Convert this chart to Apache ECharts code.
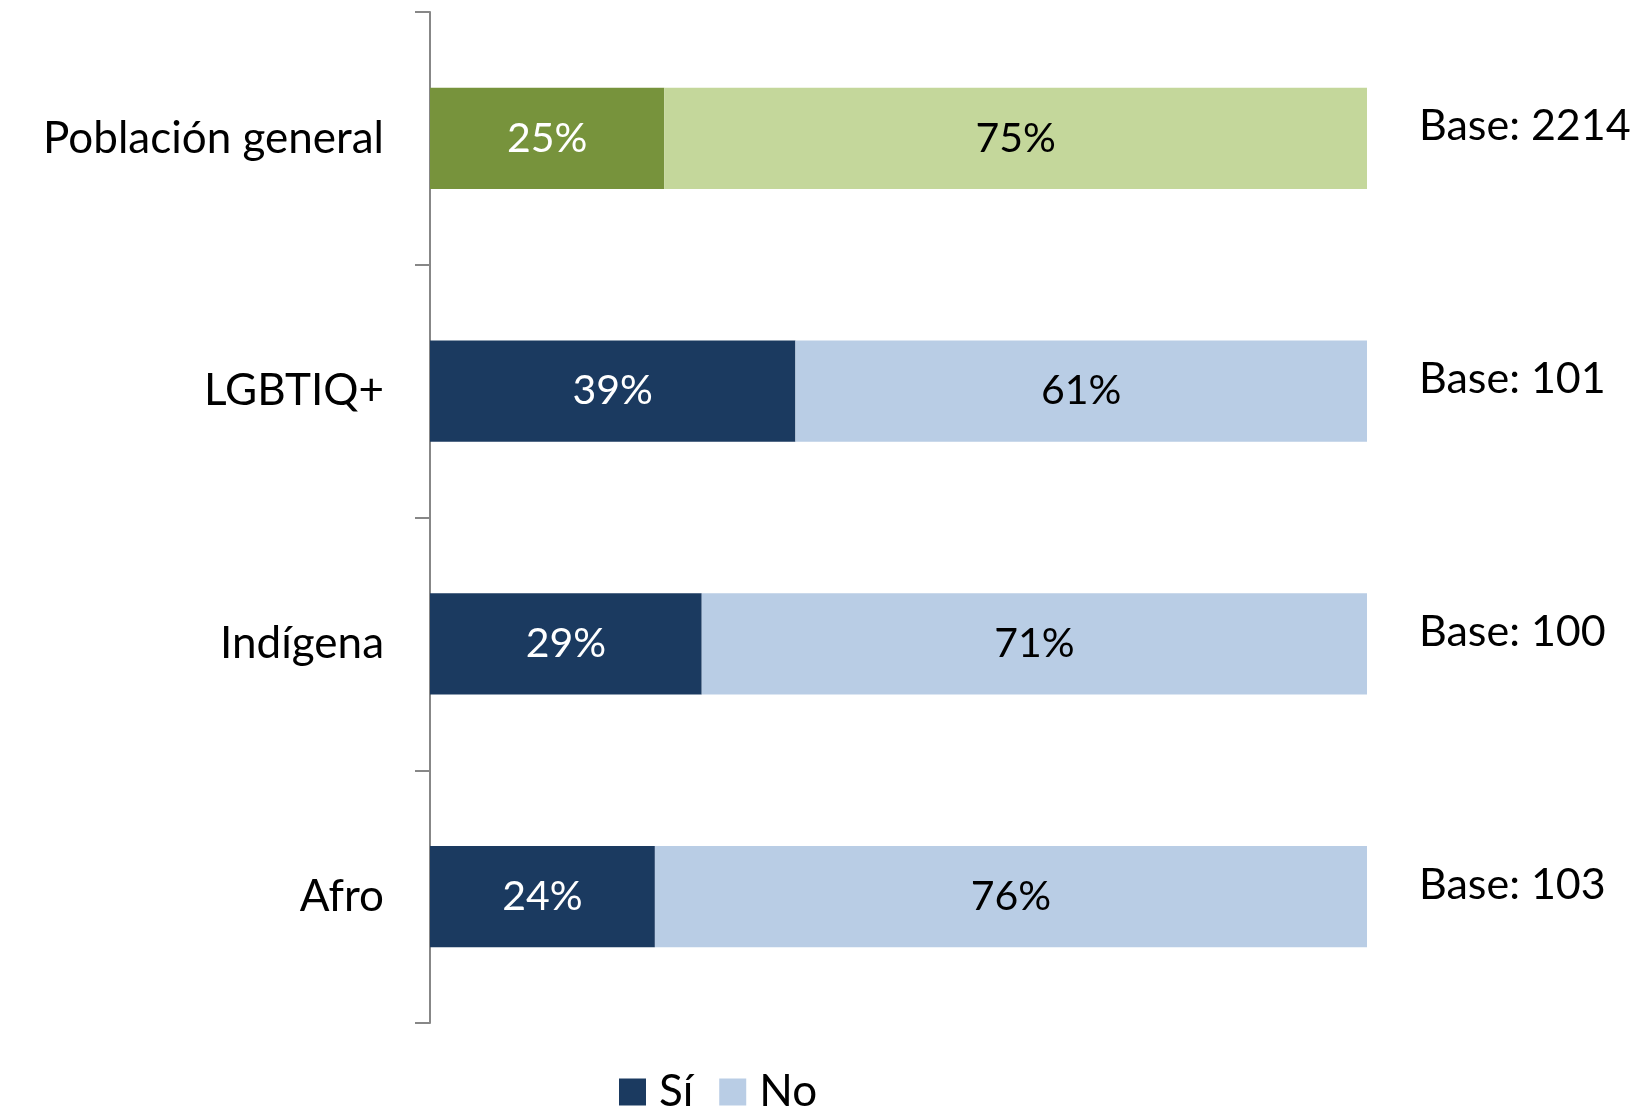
<!DOCTYPE html>
<html>
<head>
<meta charset="utf-8">
<script src="https://cdn.jsdelivr.net/npm/echarts@6/dist/echarts.min.js"></script>
<style>
  html, body { margin: 0; padding: 0; background: #fff; }
  #chart { width: 1649px; height: 1109px; }
</style>
</head>
<body>
<div id="chart"></div>
<script>
var categories = ['Población general', 'LGBTIQ+', 'Indígena', 'Afro']
var baseLabels = ['Base: 2214', 'Base: 101', 'Base: 100', 'Base: 103']
var siValues = [25, 39, 29, 24]
var noValues = [75, 61, 71, 76]

var fontFamily = 'Lato, "Open Sans", sans-serif'
var navy = '#1b3a60'
var lightBlue = '#b9cde5'
var green = '#77933c'
var lightGreen = '#c4d79b'

// first row (población general) is drawn in green
function styled(values, first) {
  return values.map(function (v, i) {
    return i === 0 ? { value: v, itemStyle: { color: first } } : v
  })
}

var chart = echarts.init(document.getElementById('chart'))
var option = {
  animation: false,
  legend: {
    data: ['Sí', 'No'],
    top: 1065,
    left: 614,
    itemWidth: 27,
    itemHeight: 27,
    itemGap: 26,
    icon: 'rect',
    textStyle: { fontFamily: fontFamily, fontSize: 44, color: '#000', padding: [0, 0, 0, 8] }
  },
  grid: { left: 430, right: 282, top: 12, bottom: 86 },
  xAxis: { type: 'value', min: 0, max: 100, show: false },
  yAxis: [
    {
      type: 'category',
      data: categories,
      inverse: true,
      axisLine: { show: true, lineStyle: { color: '#878787', width: 2 } },
      axisTick: { show: true, length: 15, lineStyle: { color: '#878787', width: 2 } },
      axisLabel: { margin: 46, fontFamily: fontFamily, fontSize: 44, color: '#000' }
    },
    {
      type: 'category',
      data: baseLabels,
      inverse: true,
      position: 'right',
      axisLine: { show: false },
      axisTick: { show: false },
      axisLabel: { margin: 52, fontFamily: fontFamily, fontSize: 43, color: '#000', lineHeight: 24, verticalAlign: 'bottom' }
    }
  ],
  series: [
    {
      name: 'Sí',
      type: 'bar',
      stack: 'total',
      barWidth: '40%',
      color: navy,
      data: styled(siValues, green),
      label: { show: true, position: 'inside', formatter: '{c}%', color: '#fff', fontFamily: fontFamily, fontSize: 41 }
    },
    {
      name: 'No',
      type: 'bar',
      stack: 'total',
      barWidth: '40%',
      color: lightBlue,
      data: styled(noValues, lightGreen),
      label: { show: true, position: 'inside', formatter: '{c}%', color: '#000', fontFamily: fontFamily, fontSize: 41 }
    }
  ]
}
chart.setOption(option)
</script>
</body>
</html>
